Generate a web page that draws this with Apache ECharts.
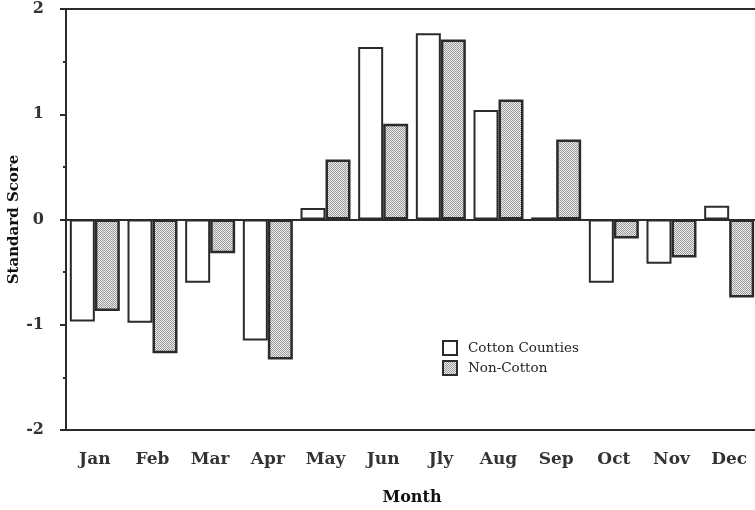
<!DOCTYPE html>
<html>
<head>
<meta charset="utf-8">
<script src="https://cdn.jsdelivr.net/npm/echarts@6/dist/echarts.min.js"></script>
<style>
html,body{margin:0;padding:0;background:#fff;}
#chart{width:755px;height:510px;}
</style>
</head>
<body>
<div id="chart"></div>
<script>
var months = ['Jan','Feb','Mar','Apr','May','Jun','Jly','Aug','Sep','Oct','Nov','Dec'];
var cottonCounties = [-0.97,-0.98,-0.60,-1.15,0.11,1.64,1.77,1.04,0.02,-0.60,-0.42,0.13];
var nonCotton = [-0.87,-1.27,-0.32,-1.33,0.57,0.91,1.71,1.14,0.76,-0.18,-0.36,-0.74];

var serif = '"DejaVu Serif", serif';
var ink = '#2b2b2b';

// stippled grey fill
function makeStipple() {
	var c = document.createElement('canvas');
	c.width = 2; c.height = 2;
	var ctx = c.getContext('2d');
	ctx.fillStyle = '#ececec';
	ctx.fillRect(0,0,2,2);
	ctx.fillStyle = '#9a9a9a';
	ctx.fillRect(0,0,1,1);
	ctx.fillRect(1,1,1,1);
	return c;
}

var myChart = echarts.init(document.getElementById('chart'));
var option = {
	animation: false,
	backgroundColor: '#fff',
	grid: {
		left: 66,
		top: 9,
		right: -3,
		bottom: 80,
		outerBoundsMode: 'none',
		containLabel: false,
		show: true,
		borderColor: ink,
		borderWidth: 2
	},
	legend: {
		orient: 'vertical',
		left: 437,
		top: 335,
		icon: 'rect',
		itemWidth: 14,
		itemHeight: 14,
		itemGap: 4,
		textStyle: {
			fontFamily: serif,
			fontSize: 13.5,
			color: '#222',
			padding: [0,0,0,6]
		},
		data: ['Cotton Counties','Non-Cotton']
	},
	xAxis: {
		type: 'category',
		data: months,
		name: 'Month',
		nameLocation: 'middle',
		nameGap: 60,
		nameMoveOverlap: false,
		nameTextStyle: {
			fontFamily: serif,
			fontWeight: 'bold',
			fontSize: 16,
			color: '#111'
		},
		axisLine: {
			onZero: false,
			lineStyle: { color: ink, width: 2 }
		},
		axisTick: {
			length: 4,
			lineStyle: { color: ink, width: 2 }
		},
		axisLabel: {
			margin: 21,
			fontFamily: serif,
			fontWeight: 'bold',
			fontSize: 17,
			color: '#333'
		},
		splitLine: { show: false }
	},
	yAxis: {
		type: 'value',
		min: -2,
		max: 2,
		interval: 1,
		name: 'Standard Score',
		nameLocation: 'middle',
		nameGap: 44,
		nameMoveOverlap: false,
		nameTextStyle: {
			fontFamily: serif,
			fontWeight: 'bold',
			fontSize: 15,
			color: '#111'
		},
		axisLine: {
			show: true,
			lineStyle: { color: ink, width: 2 }
		},
		axisTick: {
			show: true,
			length: 6,
			lineStyle: { color: ink, width: 2 }
		},
		minorTick: {
			show: true,
			splitNumber: 2,
			length: 3,
			lineStyle: { color: ink, width: 2 }
		},
		axisLabel: {
			margin: 22,
			fontFamily: serif,
			fontWeight: 'bold',
			fontSize: 16,
			color: '#333'
		},
		splitLine: { show: false }
	},
	series: [
		{
			name: 'Cotton Counties',
			type: 'bar',
			data: cottonCounties,
			barWidth: 25,
			barGap: 0,
			itemStyle: {
				color: '#fff',
				borderColor: ink,
				borderWidth: 2
			},
			markLine: {
				silent: true,
				symbol: 'none',
				label: { show: false },
				lineStyle: { color: ink, width: 2, type: 'solid' },
				data: [{ yAxis: 0 }]
			}
		},
		{
			name: 'Non-Cotton',
			type: 'bar',
			data: nonCotton,
			barWidth: 25,
			barGap: 0,
			itemStyle: {
				color: { image: makeStipple(), repeat: 'repeat' },
				borderColor: ink,
				borderWidth: 2.5
			}
		}
	]
};
myChart.setOption(option);
window.addEventListener('resize', function () {
	myChart.resize();
});
</script>
</body>
</html>
